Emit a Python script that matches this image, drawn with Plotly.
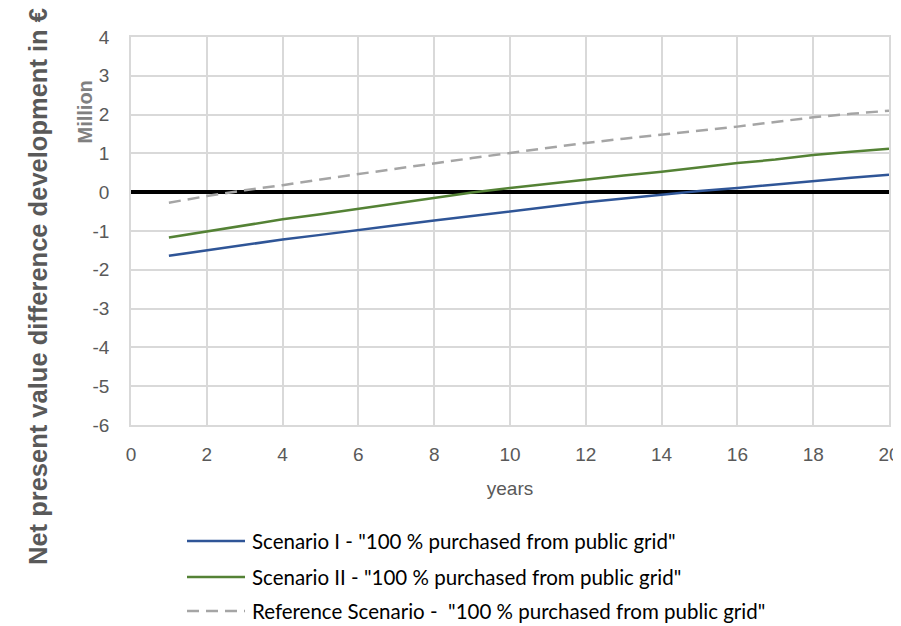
import plotly.graph_objects as go

years = list(range(1, 21))
scenario_1 = [-1.64, -1.50, -1.36, -1.22, -1.10, -0.97, -0.85, -0.73, -0.61, -0.49,
              -0.38, -0.26, -0.16, -0.06, 0.03, 0.11, 0.20, 0.28, 0.37, 0.45]
scenario_2 = [-1.17, -1.01, -0.85, -0.70, -0.57, -0.43, -0.28, -0.14, -0.01, 0.11,
              0.22, 0.33, 0.43, 0.53, 0.64, 0.75, 0.84, 0.96, 1.04, 1.12]
reference = [-0.27, -0.10, 0.05, 0.18, 0.33, 0.47, 0.61, 0.75, 0.88, 1.01,
             1.14, 1.27, 1.38, 1.48, 1.59, 1.69, 1.81, 1.93, 2.02, 2.10]
names = ['Scenario I - "100 % purchased from public grid"',
         'Scenario II - "100 % purchased from public grid"',
         'Reference Scenario -  "100 % purchased from public grid"']
x_ticks = list(range(0, 21, 2))
y_ticks = list(range(-6, 5, 1))
y_tick_labels = [str(v) for v in y_ticks]  # hyphen-minus as in the reference

colors = ["#2f5597", "#548235", "#a5a5a5"]
dashes = ["solid", "solid", "12px,7px"]
series = [scenario_1, scenario_2, reference]

fig = go.Figure()
for name, vals, c, d in zip(names, series, colors, dashes):
    fig.add_trace(go.Scatter(x=years, y=vals, mode="lines", name=name, showlegend=False,
                             line=dict(color=c, width=2.5, dash=d)))

# the page body has an 8px margin, so the figure starts at (8, 8) in the window
OFF = 8
W, H = 901 - OFF, 626 - OFF
l, r, t = 131 - OFF, 12, 37 - OFF
b = H - (425 - OFF)
pw, ph = W - l - r, H - t - b


def px_x(p):  # page pixel -> paper
    return (p - OFF - l) / pw


def px_y(p):
    return 1 - (p - OFF - t) / ph


grid = "#d9d9d9"
tickfont = dict(family="Liberation Sans, Arial", size=19, color="#595959")

annotations = [
    dict(text="<b>Net present value difference development in €</b>", textangle=-90,
         x=px_x(22), y=px_y(287), xref="paper", yref="paper", showarrow=False,
         font=dict(family="Liberation Sans, Arial", size=25.5, color="#595959")),
    dict(text="<b>Million</b>", textangle=-90, x=px_x(71), y=px_y(79),
         xref="paper", yref="paper", showarrow=False,
         font=dict(family="Liberation Sans, Arial", size=20, color="#808080")),
]
shapes = []
legend_rows = [541, 577, 611]
for name, c, d, ry in zip(names, colors, dashes, legend_rows):
    shapes.append(dict(type="line", xref="paper", yref="paper",
                       x0=px_x(187), x1=px_x(245), y0=px_y(ry), y1=px_y(ry),
                       line=dict(color=c, width=2.5, dash=d)))
    annotations.append(dict(text=name, x=px_x(250), y=px_y(ry), xref="paper", yref="paper",
                            xanchor="left", yanchor="middle", showarrow=False,
                            font=dict(family="Lato, Open Sans", size=20.5, color="#000000")))

fig.update_layout(
    width=W, height=H,
    margin=dict(l=l, r=r, t=t, b=b),
    paper_bgcolor="white", plot_bgcolor="white",
    showlegend=False,
    xaxis=dict(range=[0, 20], tickvals=x_ticks, showgrid=True, gridcolor=grid, gridwidth=1.5,
               showline=True, linecolor=grid, linewidth=1.5, mirror=True, zeroline=False,
               tickfont=tickfont, ticks="", ticklabelstandoff=11, automargin=False,
               ticklabeloverflow="allow",
               title=dict(text="years", font=dict(family="Liberation Sans, Arial", size=19, color="#595959"),
                          standoff=18)),
    yaxis=dict(range=[-6, 4], tickvals=y_ticks, ticktext=y_tick_labels, showgrid=True,
               gridcolor=grid, gridwidth=1.5,
               showline=True, linecolor=grid, linewidth=1.5, mirror=True,
               zeroline=True, zerolinecolor="#000000", zerolinewidth=3.5,
               tickfont=tickfont, ticks="", ticklabelstandoff=16, automargin=False),
    annotations=annotations,
    shapes=shapes,
)

fig.write_html("out.html")
